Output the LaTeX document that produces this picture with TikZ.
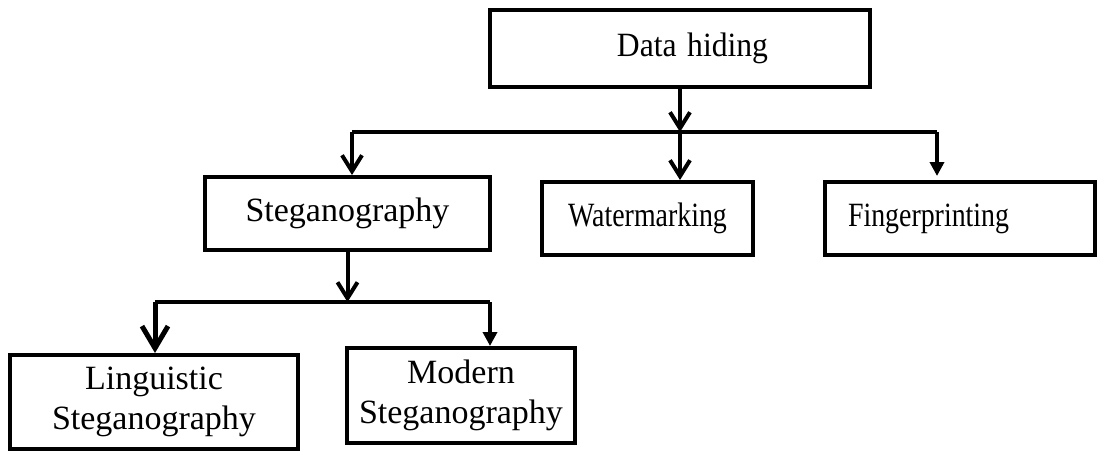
\documentclass[tikz,border=0pt]{standalone}
\usepackage{fontspec}
\usepackage{graphicx}
\setmainfont{Liberation Serif}
\usetikzlibrary{arrows.meta}

\begin{document}
\begin{tikzpicture}[x=0.5pt,y=-0.5pt,line width=2pt,
    box/.style={draw,rectangle,inner sep=0pt,font=\fontsize{17}{20}\selectfont,align=center},
    barb/.style={-{Straight Barb[length=8pt,width=10pt]}},
    bigbarb/.style={line width=2.5pt,-{Straight Barb[length=11pt,width=13pt]}},
    tri/.style={-{Triangle[length=7pt,width=7pt]}}]
      \useasboundingbox (0,0) rectangle (1102,451);
      \node[box,minimum width=190pt,minimum height=38.5pt,text width=88pt,align=right] (hiding) at (680,48.5) {\scalebox{0.93}[1]{Data hiding}};
      \node[box,minimum width=142.5pt,minimum height=36.5pt] (steg) at (347.5,213.5) {Steganography};
      \node[box,minimum width=105.5pt,minimum height=36.5pt] (water) at (647.5,218.5) {\scalebox{0.82}[1]{Watermarking}};
      \node[box,minimum width=135pt,minimum height=36.5pt,text width=112pt,align=left] (finger) at (960,218.5) {\scalebox{0.82}[1]{Fingerprinting}};
      \node[box,minimum width=144pt,minimum height=47pt] (ling) at (154,402) {Linguistic\\Steganography};
      \node[box,minimum width=114pt,minimum height=47.5pt] (modern) at (461,395.5) {Modern\\Steganography};
      \coordinate (hubL) at (352,132);
      \coordinate (hubR) at (937,132);
      \coordinate (subL) at (155,302);
      \coordinate (subR) at (490,302);
      \draw[barb] (hiding.south) -- (hiding.south |- hubL);
      \draw (hubL) -- (hubR);
      \draw[barb] (hubL) -- (hubL |- steg.north);
      \draw[barb] (hiding.south |- hubL) -- (hiding.south |- water.north);
      \draw[tri,shorten >=2pt] (hubR) -- (hubR |- finger.north);
      \draw[barb] (steg.south) -- (steg.south |- subL);
      \draw (subL) -- (subR);
      \draw[bigbarb] (subL) -- (subL |- ling.north);
      \draw[tri] (subR) -- (subR |- modern.north);
    \end{tikzpicture}
\end{document}
